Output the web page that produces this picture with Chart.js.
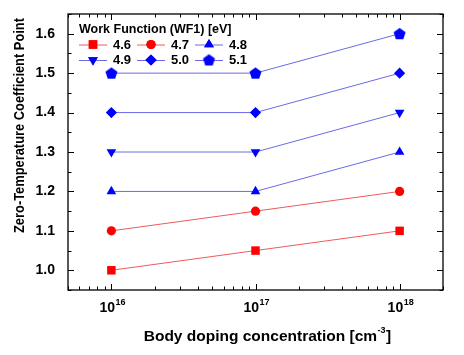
<!DOCTYPE html>
<html>
<head>
<meta charset="utf-8">
<script src="https://cdn.jsdelivr.net/npm/chart.js@4/dist/chart.umd.min.js"></script>
<style>
html,body{margin:0;padding:0;background:#fff;}
#wrap{width:464px;height:355px;position:relative;}
</style>
</head>
<body>
<div id="wrap"><canvas id="c" width="464" height="355"></canvas></div>
<script>
// ---- data ----
const dopingLevels = [1e16, 1e17, 1e18];
const wfLabels = ['4.6', '4.7', '4.8', '4.9', '5.0', '5.1'];
const zt_46 = [1.00, 1.05, 1.10];
const zt_47 = [1.10, 1.15, 1.20];
const zt_48 = [1.20, 1.20, 1.30];
const zt_49 = [1.30, 1.30, 1.40];
const zt_50 = [1.40, 1.40, 1.50];
const zt_51 = [1.50, 1.50, 1.60];
const yTickValues = [1.0, 1.1, 1.2, 1.3, 1.4, 1.5, 1.6];
const xTickExponents = [16, 17, 18];
const legendTitle = 'Work Function (WF1) [eV]';
const xTitle = 'Body doping concentration [cm';
const xTitleSup = '-3';
const xTitleEnd = ']';
const yTitle = 'Zero-Temperature Coefficient Point';

const FONT = 'Arial, "Liberation Sans", sans-serif';

function pentagon(r, color) {
  const c = document.createElement('canvas');
  const s = Math.ceil(r * 2 + 2);
  c.width = s; c.height = s;
  const g = c.getContext('2d');
  g.fillStyle = color;
  g.beginPath();
  for (let i = 0; i < 5; i++) {
    const a = -Math.PI / 2 + i * 2 * Math.PI / 5;
    const px = s / 2 + r * Math.cos(a), py = s / 2 + 0.5 + r * Math.sin(a);
    if (i === 0) g.moveTo(px, py); else g.lineTo(px, py);
  }
  g.closePath(); g.fill();
  return c;
}

const RED = '#ff0000', BLUE = '#0000ff';
const RED_L = '#ee5a5a', BLUE_L = '#6a6ae8';
const pent = pentagon(6.3, BLUE);

const seriesDefs = [
  {vals: zt_46, c: RED, l: RED_L, style: 'rect', r: 6, rot: 0},
  {vals: zt_47, c: RED, l: RED_L, style: 'circle', r: 4.6, rot: 0},
  {vals: zt_48, c: BLUE, l: BLUE_L, style: 'triangle', r: 5.6, rot: 0},
  {vals: zt_49, c: BLUE, l: BLUE_L, style: 'triangle', r: 5.6, rot: 180},
  {vals: zt_50, c: BLUE, l: BLUE_L, style: 'rectRot', r: 5.6, rot: 0},
  {vals: zt_51, c: BLUE, l: BLUE_L, style: pent, r: 6.3, rot: 0},
];

const datasets = seriesDefs.map((s, i) => ({
  label: wfLabels[i],
  data: dopingLevels.map((x, j) => ({x: x, y: s.vals[j]})),
  borderColor: s.l,
  borderWidth: 1,
  backgroundColor: s.c,
  pointBackgroundColor: s.c,
  pointBorderColor: s.c,
  pointBorderWidth: 0,
  pointStyle: s.style,
  pointRadius: s.r,
  pointRotation: s.rot,
  tension: 0,
  fill: false,
}));

function drawPointGeneric(ctx, ds, x, y) {
  const st = ds.pointStyle;
  if (typeof st !== 'string') {
    ctx.drawImage(st, x - st.width / 2, y - st.height / 2);
    return;
  }
  if (Chart.helpers && Chart.helpers.drawPoint) {
    Chart.helpers.drawPoint(ctx, {
      pointStyle: st, radius: ds.pointRadius, rotation: ds.pointRotation, borderWidth: 0
    }, x, y);
    ctx.fill();
  }
}

const framePlugin = {
  id: 'frame',
  afterDraw(chart) {
    const ctx = chart.ctx;
    const a = chart.chartArea;
    const xs = chart.scales.x, ys = chart.scales.y;
    ctx.save();
    // frame
    ctx.strokeStyle = '#000';
    ctx.lineWidth = 1.3;
    ctx.strokeRect(a.left, a.top, a.right - a.left, a.bottom - a.top);
    ctx.lineWidth = 1;
    // x ticks (log) inward top/bottom
    ctx.beginPath();
    for (let e = 15; e <= 18; e++) {
      for (let m = 1; m <= 9; m++) {
        const v = m * Math.pow(10, e);
        if (v < xs.min * 0.999 || v > xs.max * 1.001) continue;
        const px = Math.round(xs.getPixelForValue(v)) + 0.5;
        const len = m === 1 ? 6 : 3.5;
        ctx.moveTo(px, a.bottom); ctx.lineTo(px, a.bottom - len);
        ctx.moveTo(px, a.top); ctx.lineTo(px, a.top + len);
      }
    }
    // y ticks
    for (let k = 0; k <= 14; k++) {
      const v = 0.95 + k * 0.05;
      const py = Math.round(ys.getPixelForValue(v)) + 0.5;
      const major = k % 2 === 1;
      const len = major ? 6 : 3.5;
      ctx.moveTo(a.left, py); ctx.lineTo(a.left + len, py);
      ctx.moveTo(a.right, py); ctx.lineTo(a.right - len, py);
    }
    ctx.stroke();

    ctx.fillStyle = '#000';
    // x tick labels with superscripts
    xTickExponents.forEach(e => {
      const px = xs.getPixelForValue(Math.pow(10, e));
      ctx.font = 'bold 14px ' + FONT;
      ctx.textAlign = 'left'; ctx.textBaseline = 'alphabetic';
      const w10 = ctx.measureText('10').width;
      const x0 = px - 12;
      ctx.fillText('10', x0, 312);
      ctx.font = 'bold 9px ' + FONT;
      ctx.fillText(String(e), x0 + w10 + 0.5, 304.5);
    });
    // x title
    ctx.font = 'bold 15.5px ' + FONT;
    const w1 = ctx.measureText(xTitle).width;
    ctx.font = 'bold 9px ' + FONT;
    const w2 = ctx.measureText(xTitleSup).width;
    ctx.font = 'bold 15.5px ' + FONT;
    const w3 = ctx.measureText(xTitleEnd).width;
    const total = w1 + w2 + w3 + 1;
    let tx = 267.5 - total / 2;
    ctx.fillText(xTitle, tx, 341);
    ctx.font = 'bold 9px ' + FONT;
    ctx.fillText(xTitleSup, tx + w1 + 0.5, 333);
    ctx.font = 'bold 15.5px ' + FONT;
    ctx.fillText(xTitleEnd, tx + w1 + w2 + 1, 341);

    // y title (fit to reference length)
    ctx.save();
    ctx.font = 'bold 14px ' + FONT;
    const yw = ctx.measureText(yTitle).width;
    const sx = 215 / yw;
    ctx.translate(20, 125.5);
    ctx.rotate(-Math.PI / 2);
    ctx.scale(sx, 1);
    ctx.textAlign = 'center'; ctx.textBaseline = 'middle';
    ctx.fillText(yTitle, 0, 0);
    ctx.restore();

    // legend
    ctx.font = 'bold 12.5px ' + FONT;
    ctx.textAlign = 'left'; ctx.textBaseline = 'middle';
    ctx.fillText(legendTitle, 79, 30);
    const colX = [79, 137, 195];
    const rowY = [44.5, 60];
    chart.data.datasets.forEach((ds, i) => {
      const cx = colX[i % 3], cy = rowY[Math.floor(i / 3)];
      ctx.strokeStyle = ds.borderColor;
      ctx.lineWidth = 1;
      ctx.beginPath();
      ctx.moveTo(cx, cy + 0.5); ctx.lineTo(cx + 28, cy + 0.5);
      ctx.stroke();
      ctx.fillStyle = ds.pointBackgroundColor;
      drawPointGeneric(ctx, ds, cx + 14, cy);
      ctx.fillStyle = '#000';
      ctx.font = 'bold 13px ' + FONT;
      ctx.fillText(ds.label, cx + 34, cy + 0.5);
    });
    ctx.restore();
  }
};

new Chart(document.getElementById('c'), {
  type: 'line',
  data: {datasets: datasets},
  options: {
    responsive: false,
    animation: false,
    devicePixelRatio: 1,
    layout: {padding: {top: 14, right: 21, left: 0, bottom: 0}},
    plugins: {legend: {display: false}, tooltip: {enabled: false}},
    scales: {
      x: {
        type: 'logarithmic', min: 5e15, max: 2e18,
        grid: {display: false}, border: {display: false},
        ticks: {display: false},
        afterFit(s) { s.height = 65; }
      },
      y: {
        type: 'linear', min: 0.95, max: 1.65,
        grid: {display: false}, border: {display: false},
        afterBuildTicks(s) { s.ticks = yTickValues.map(v => ({value: v})); },
        ticks: {
          color: '#000', padding: 5,
          font: {family: FONT, size: 14, weight: 'bold'},
          callback: v => Number(v).toFixed(1)
        },
        afterFit(s) { s.width = 68; }
      }
    }
  },
  plugins: [framePlugin]
});
</script>
</body>
</html>
